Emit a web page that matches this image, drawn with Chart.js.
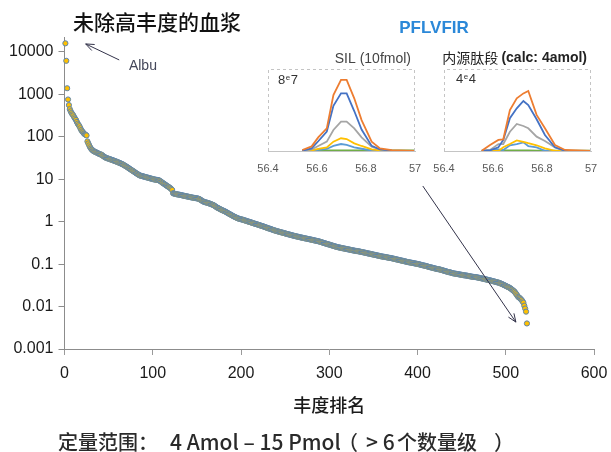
<!DOCTYPE html>
<html lang="zh-CN">
<head>
  <meta charset="utf-8">
  <title>未除高丰度的血浆 - 丰度排名</title>
  <script src="https://cdn.jsdelivr.net/npm/chart.js@4.4.3/dist/chart.umd.min.js"></script>
  <style>
    html, body { margin: 0; padding: 0; background: #fff; overflow: hidden; }
    .wrap { position: relative; width: 611px; height: 452px; }
    .wrap canvas { position: absolute; }
    #mainChart { left: 0; top: 0; }
    #insetSil { left: 250px; top: 45px; }
    #insetEndo { left: 430px; top: 45px; }
  </style>
</head>
<body>
  <div class="wrap">
    <canvas id="mainChart" width="611" height="452"></canvas>
    <canvas id="insetSil" width="180" height="135"></canvas>
    <canvas id="insetEndo" width="181" height="135"></canvas>
  </div>

  <script>
    // abundance of each protein, sorted (rank = position in list, starting at 1)
    const abundance = [
      16000, 6200, 1400, 760, 560, 450, 400, 365, 340, 320,
      290, 270, 250, 225, 205, 190, 178, 160, 145, 135,
      128, 120, 115, 112, 108, 78, 70, 63, 57, 53,
      50, 48, 46, 45, 44, 43, 42, 41, 40, 39,
      38.5, 38, 36.5, 35, 34, 33, 32, 31.5, 31, 30.5,
      30, 29.5, 29, 28.5, 28, 27.5, 27, 26.5, 26, 25.5,
      25, 24.5, 24, 23.5, 23, 22.5, 21.8, 21.2, 20.6, 20,
      19.4, 18.8, 18.2, 17.6, 17.0, 16.5, 16.0, 15.5, 15.0, 14.5,
      14.0, 13.6, 13.2, 12.8, 12.4, 12.2, 12.0, 11.9, 11.7, 11.6,
      11.4, 11.3, 11.1, 11.0, 10.8, 10.7, 10.5, 10.4, 10.3, 10.1,
      10.0, 9.9, 9.8, 9.7, 9.65, 9.6, 9.5, 9.2, 8.9, 8.6,
      8.3, 8.0, 7.8, 7.5, 7.3, 7.0, 6.8, 6.6, 6.4, 6.15,
      5.9, 5.6, 4.7, 4.6, 4.55, 4.5, 4.45, 4.4, 4.37, 4.33,
      4.3, 4.25, 4.2, 4.15, 4.1, 4.06, 4.02, 3.98, 3.94, 3.9,
      3.86, 3.82, 3.78, 3.74, 3.7, 3.67, 3.64, 3.61, 3.58, 3.55,
      3.52, 3.48, 3.4, 3.3, 3.2, 3.1, 3.0, 2.95, 2.9, 2.86,
      2.82, 2.78, 2.74, 2.7, 2.65, 2.6, 2.55, 2.5, 2.45, 2.38,
      2.3, 2.22, 2.15, 2.1, 2.05, 2.0, 1.95, 1.9, 1.86, 1.82,
      1.78, 1.74, 1.7, 1.65, 1.6, 1.56, 1.52, 1.48, 1.44, 1.4,
      1.36, 1.33, 1.3, 1.27, 1.24, 1.21, 1.19, 1.17, 1.16, 1.14,
      1.13, 1.11, 1.1, 1.08, 1.06, 1.05, 1.03, 1.01, 1.0, 0.99,
      0.97, 0.95, 0.94, 0.92, 0.91, 0.89, 0.88, 0.87, 0.855, 0.84,
      0.83, 0.815, 0.8, 0.79, 0.78, 0.765, 0.75, 0.74, 0.725, 0.71,
      0.7, 0.69, 0.68, 0.67, 0.655, 0.645, 0.635, 0.625, 0.615, 0.605,
      0.597, 0.59, 0.582, 0.575, 0.567, 0.56, 0.552, 0.545, 0.538, 0.53,
      0.523, 0.516, 0.51, 0.503, 0.497, 0.49, 0.484, 0.478, 0.472, 0.466,
      0.46, 0.455, 0.45, 0.445, 0.44, 0.435, 0.43, 0.426, 0.421, 0.417,
      0.413, 0.408, 0.404, 0.4, 0.396, 0.392, 0.388, 0.384, 0.38, 0.376,
      0.372, 0.368, 0.364, 0.36, 0.356, 0.353, 0.35, 0.345, 0.34, 0.335,
      0.33, 0.325, 0.32, 0.315, 0.31, 0.306, 0.302, 0.297, 0.293, 0.289,
      0.285, 0.28, 0.276, 0.272, 0.268, 0.264, 0.26, 0.257, 0.253, 0.25,
      0.248, 0.245, 0.243, 0.24, 0.238, 0.235, 0.233, 0.231, 0.229, 0.226,
      0.224, 0.222, 0.22, 0.217, 0.215, 0.213, 0.211, 0.209, 0.207, 0.205, 0.204,
      0.203, 0.201, 0.199, 0.197, 0.195, 0.193, 0.191, 0.189, 0.187, 0.185,
      0.183, 0.181, 0.179, 0.177, 0.176, 0.174, 0.172, 0.17, 0.168, 0.166,
      0.165, 0.163, 0.161, 0.159, 0.158, 0.156, 0.154, 0.153, 0.151, 0.15, 0.149,
      0.148, 0.147, 0.145, 0.144, 0.142, 0.141, 0.14, 0.139, 0.137, 0.136,
      0.134, 0.133, 0.131, 0.13, 0.128, 0.127, 0.126, 0.124, 0.123, 0.121,
      0.12, 0.119, 0.117, 0.116, 0.115, 0.113, 0.112, 0.111, 0.11, 0.109,
      0.108, 0.107, 0.106, 0.105, 0.104, 0.103, 0.102, 0.101, 0.1, 0.099,
      0.098, 0.096, 0.095, 0.094, 0.093, 0.092, 0.091, 0.09, 0.089, 0.087,
      0.086, 0.085, 0.084, 0.083, 0.082, 0.081, 0.08, 0.079, 0.078, 0.077, 0.0765,
      0.076, 0.075, 0.074, 0.073, 0.072, 0.071, 0.07, 0.069, 0.068, 0.067,
      0.066, 0.065, 0.0645, 0.064, 0.063, 0.062, 0.061, 0.0605, 0.06, 0.0595,
      0.059, 0.0585, 0.058, 0.0575, 0.057, 0.0565, 0.056, 0.0555, 0.055, 0.0545, 0.0542,
      0.054, 0.0535, 0.053, 0.0525, 0.052, 0.0515, 0.051, 0.0505, 0.0502, 0.05,
      0.0498, 0.0495, 0.049, 0.0485, 0.048, 0.0475, 0.047, 0.0465, 0.046, 0.0455,
      0.045, 0.0445, 0.044, 0.0435, 0.043, 0.0425, 0.042, 0.0415, 0.041, 0.0405,
      0.04, 0.0395, 0.039, 0.0385, 0.038, 0.0375, 0.037, 0.0365, 0.036, 0.0352,
      0.0345, 0.0338, 0.033, 0.0322, 0.0315, 0.0308, 0.03, 0.0293, 0.0286, 0.028,
      0.0272, 0.0262, 0.0252, 0.0243, 0.0234, 0.0224, 0.021, 0.0196, 0.0183, 0.017,
      0.0164, 0.0158, 0.015, 0.0143, 0.0133, 0.0124, 0.0105, 0.009, 0.0076, 0.004
    ];
    const yTickValues = [0.001, 0.01, 0.1, 1, 10, 100, 1000, 10000];
    const yTickLabels = ['0.001', '0.01', '0.1', '1', '10', '100', '1000', '10000'];

    // inset: SIL peptide (10 fmol), intensity in units of 1e7
    const silTime = [56.54, 56.578, 56.605, 56.64, 56.667, 56.698, 56.721, 56.752, 56.782, 56.823, 56.857, 56.905, 57.0];
    const silOrange = [0.1, 0.45, 1.33, 2.21, 5.46, 6.93, 6.93, 5.14, 3.02, 0.91, 0.26, 0.08, 0.02];
    const silBlue = [0.03, 0.25, 0.95, 1.9, 4.4, 5.63, 5.63, 3.9, 2.1, 0.5, 0.15, 0.04, 0.01];
    const silGrey = [0.02, 0.15, 0.49, 0.91, 2.05, 2.86, 2.86, 2.21, 1.33, 0.42, 0.16, 0.04, 0.01];
    const silYellow = [0.01, 0.05, 0.2, 0.36, 0.91, 1.24, 1.17, 0.75, 0.49, 0.16, 0.05, 0.01, 0.01];
    const silLightBlue = [0.01, 0.02, 0.1, 0.2, 0.49, 0.68, 0.59, 0.36, 0.22, 0.05, 0.02, 0.01, 0.01];
    const silGreen = [0.05, 0.05, 0.06, 0.06, 0.06, 0.07, 0.07, 0.06, 0.06, 0.05, 0.05, 0.05, 0.05];

    // inset: endogenous peptide (calc. 4 amol), intensity in units of 1e4
    const endoTime = [56.554, 56.588, 56.622, 56.642, 56.669, 56.697, 56.724, 56.744, 56.778, 56.812, 56.853, 56.894, 57.0];
    const endoOrange = [0.01, 0.29, 0.54, 0.57, 2.0, 2.57, 2.81, 2.93, 1.76, 1.11, 0.29, 0.05, 0.01];
    const endoBlue = [0.01, 0.03, 0.18, 0.54, 1.6, 2.08, 2.44, 2.24, 1.55, 0.78, 0.18, 0.01, 0.01];
    const endoGrey = [0.01, 0.05, 0.34, 0.34, 0.94, 1.32, 1.22, 1.11, 0.7, 0.49, 0.18, 0.01, 0.01];
    const endoYellow = [0.0, 0.0, 0.0, 0.18, 0.34, 0.52, 0.45, 0.38, 0.28, 0.13, 0.01, 0.0, 0.0];
    const endoLightBlue = [0.01, 0.05, 0.08, 0.05, 0.28, 0.33, 0.42, 0.24, 0.18, 0.01, 0.0, 0.0, 0.0];
    const endoGreen = [0.02, 0.02, 0.02, 0.03, 0.03, 0.03, 0.03, 0.03, 0.02, 0.02, 0.02, 0.02, 0.02];

    const insetTicks = [56.4, 56.6, 56.8, 57];
    const traceColors = ['#ED7D31', '#4472C4', '#A5A5A5', '#FFC000', '#5B9BD5', '#70AD47'];

    // annotation anchors in data coordinates [rank, abundance]
    const albuArrow = { from: [62, 6500], to: [24, 15500] };
    const albuLabel = [73, 4700];
    const tailArrow = { from: [406, 6.95], to: [511.5, 0.0043] };

    // footer line, split so each piece sits where it sits in the figure: [text, x, font size]
    const footerParts = [
      ['定量范围：', 58, 20],
      ['4 Amol – 15 Pmol', 170, 21],
      ['（', 338, 20],
      ['> 6', 366, 21],
      ['个数量级', 397, 20],
      ['）', 494, 20]
    ];

    const LATIN = '"Liberation Sans", Arial, sans-serif';
    const CJK = '"Noto Sans CJK SC", "Noto Sans", sans-serif';

    Chart.defaults.font.family = LATIN;
    Chart.defaults.animation = false;

    function drawArrow(ctx, x1, y1, x2, y2) {
      const ang = Math.atan2(y2 - y1, x2 - x1);
      const head = 9, spread = 0.38;
      ctx.beginPath();
      ctx.moveTo(x1, y1);
      ctx.lineTo(x2, y2);
      ctx.moveTo(x2 - head * Math.cos(ang - spread), y2 - head * Math.sin(ang - spread));
      ctx.lineTo(x2, y2);
      ctx.lineTo(x2 - head * Math.cos(ang + spread), y2 - head * Math.sin(ang + spread));
      ctx.stroke();
    }

    const mainDecor = {
      id: 'mainDecor',
      afterDatasetsDraw(chart) {
        const { ctx, scales: { x, y } } = chart;
        ctx.save();
        ctx.strokeStyle = '#33334a';
        ctx.lineWidth = 1;
        drawArrow(ctx,
          x.getPixelForValue(albuArrow.from[0]), y.getPixelForValue(albuArrow.from[1]),
          x.getPixelForValue(albuArrow.to[0]), y.getPixelForValue(albuArrow.to[1]));
        drawArrow(ctx,
          x.getPixelForValue(tailArrow.from[0]), y.getPixelForValue(tailArrow.from[1]),
          x.getPixelForValue(tailArrow.to[0]), y.getPixelForValue(tailArrow.to[1]));

        ctx.textBaseline = 'middle';
        ctx.textAlign = 'left';
        ctx.fillStyle = '#44475a';
        ctx.font = '14px ' + LATIN;
        ctx.fillText('Albu', x.getPixelForValue(albuLabel[0]), y.getPixelForValue(albuLabel[1]));

        ctx.fillStyle = '#111';
        ctx.font = '500 21px ' + CJK;
        ctx.fillText('未除高丰度的血浆', 73, 22);

        ctx.textAlign = 'center';
        ctx.fillStyle = '#2b88d8';
        ctx.font = 'bold 17px ' + LATIN;
        ctx.fillText('PFLVFIR', 434, 28);

        ctx.textAlign = 'left';
        ctx.fillStyle = '#2a2a2a';
        footerParts.forEach(([t, px, size]) => {
          ctx.font = '500 ' + size + 'px ' + CJK;
          ctx.fillText(t, px, 442);
        });
        ctx.restore();
      }
    };

    new Chart(document.getElementById('mainChart'), {
      type: 'scatter',
      data: {
        datasets: [{
          data: abundance.map((v, i) => ({ x: i + 1, y: v })),
          backgroundColor: '#FFC000',
          borderColor: '#5E86AE',
          borderWidth: 1,
          pointRadius: 2.6,
          pointHoverRadius: 2.6,
          clip: false
        }]
      },
      options: {
        responsive: false,
        layout: { padding: { left: 0, right: 17, top: 37, bottom: 0 } },
        plugins: { legend: { display: false }, tooltip: { enabled: false } },
        scales: {
          x: {
            type: 'linear',
            min: 0,
            max: 600,
            ticks: { stepSize: 100, color: '#1a1a1a', font: { size: 16 }, padding: 9, maxRotation: 0 },
            grid: { drawOnChartArea: false, drawTicks: true, tickLength: 6, tickColor: '#9a9a9a' },
            border: { color: '#8c8c8c', width: 1 },
            title: {
              display: true,
              text: '丰度排名',
              color: '#1a1a1a',
              font: { family: CJK, size: 18, weight: '500' },
              padding: { top: 0, bottom: 36 }
            },
            afterFit(scale) {
              scale.height = 103;
              scale.paddingLeft = 0;
              scale.paddingRight = 0;
            }
          },
          y: {
            type: 'logarithmic',
            min: 0.001,
            max: 22570,
            afterBuildTicks(scale) { scale.ticks = yTickValues.map(v => ({ value: v })); },
            ticks: {
              color: '#1a1a1a',
              font: { size: 16 },
              padding: 5,
              callback: (v, i) => yTickLabels[i]
            },
            grid: { drawOnChartArea: false, drawTicks: true, tickLength: 6, tickColor: '#8c8c8c' },
            border: { color: '#8c8c8c', width: 1 },
            afterFit(scale) { scale.width = 64.5; }
          }
        }
      },
      plugins: [mainDecor]
    });

    function insetDecor(id, drawLabels) {
      return {
        id: id,
        afterDraw(chart) {
          const { ctx, chartArea: a } = chart;
          ctx.save();
          ctx.strokeStyle = '#c4c4c4';
          ctx.lineWidth = 1;
          ctx.setLineDash([3, 3]);
          ctx.beginPath();
          ctx.moveTo(a.left + 0.5, a.bottom);
          ctx.lineTo(a.left + 0.5, a.top + 0.5);
          ctx.lineTo(a.right - 0.5, a.top + 0.5);
          ctx.lineTo(a.right - 0.5, a.bottom);
          ctx.stroke();
          ctx.setLineDash([]);
          drawLabels(ctx, a);
          ctx.restore();
        }
      };
    }

    function drawExponent(ctx, x, y, mant, exp) {
      ctx.textAlign = 'left';
      ctx.textBaseline = 'alphabetic';
      ctx.fillStyle = '#333';
      ctx.font = '13px ' + LATIN;
      ctx.fillText(mant, x, y);
      let w = ctx.measureText(mant).width;
      ctx.font = '8px ' + LATIN;
      ctx.fillText('e', x + w + 0.5, y - 4);
      w += ctx.measureText('e').width + 1;
      ctx.font = '13px ' + LATIN;
      ctx.fillText(exp, x + w, y);
    }

    function insetConfig(time, series, yMax, decor) {
      return {
        type: 'line',
        data: {
          datasets: series.map((vals, k) => ({
            data: vals.map((v, i) => ({ x: time[i], y: v })),
            borderColor: traceColors[k],
            borderWidth: 1.8,
            pointRadius: 0,
            tension: 0,
            fill: false
          }))
        },
        options: {
          responsive: false,
          layout: { padding: decor.padding },
          plugins: { legend: { display: false }, tooltip: { enabled: false } },
          scales: {
            x: {
              type: 'linear',
              min: 56.4,
              max: 57,
              afterBuildTicks(scale) { scale.ticks = insetTicks.map(v => ({ value: v })); },
              ticks: {
                autoSkip: false,
                maxRotation: 0,
                color: '#595959',
                font: { size: 11 },
                padding: 0,
                callback: v => String(Number(v.toFixed(1)))
              },
              grid: { drawOnChartArea: false, drawTicks: true, tickLength: 11, tickColor: 'rgba(0,0,0,0)' },
              border: { color: '#c4c4c4', width: 1 },
              afterFit(scale) {
                scale.height = 29;
                scale.paddingLeft = 0;
                scale.paddingRight = 0;
              }
            },
            y: { display: false, min: 0, max: yMax }
          }
        },
        plugins: [decor.plugin]
      };
    }

    new Chart(document.getElementById('insetSil'), insetConfig(
      silTime,
      [silOrange, silBlue, silGrey, silYellow, silLightBlue, silGreen],
      8,
      {
        padding: { left: 18, right: 15, top: 24, bottom: 0 },
        plugin: insetDecor('silDecor', (ctx, a) => {
          ctx.textAlign = 'right';
          ctx.textBaseline = 'middle';
          ctx.fillStyle = '#444';
          ctx.font = '14px ' + LATIN;
          ctx.fillText('SIL (10fmol)', a.right - 4, a.top - 10);
          drawExponent(ctx, a.left + 10, a.top + 15, '8', '7');
        })
      }
    ));

    new Chart(document.getElementById('insetEndo'), insetConfig(
      endoTime,
      [endoOrange, endoBlue, endoGrey, endoYellow, endoLightBlue, endoGreen],
      4,
      {
        padding: { left: 14, right: 20, top: 24, bottom: 0 },
        plugin: insetDecor('endoDecor', (ctx, a) => {
          ctx.textBaseline = 'middle';
          ctx.fillStyle = '#222';
          ctx.textAlign = 'right';
          ctx.font = 'bold 14px ' + LATIN;
          const tail = '(calc: 4amol)';
          const right = a.right - 4;
          ctx.fillText(tail, right, a.top - 11);
          const tw = ctx.measureText(tail).width;
          ctx.font = '14px ' + CJK;
          ctx.fillText('内源肽段 ', right - tw, a.top - 11);
          drawExponent(ctx, a.left + 12, a.top + 14, '4', '4');
        })
      }
    ));
  </script>
</body>
</html>
